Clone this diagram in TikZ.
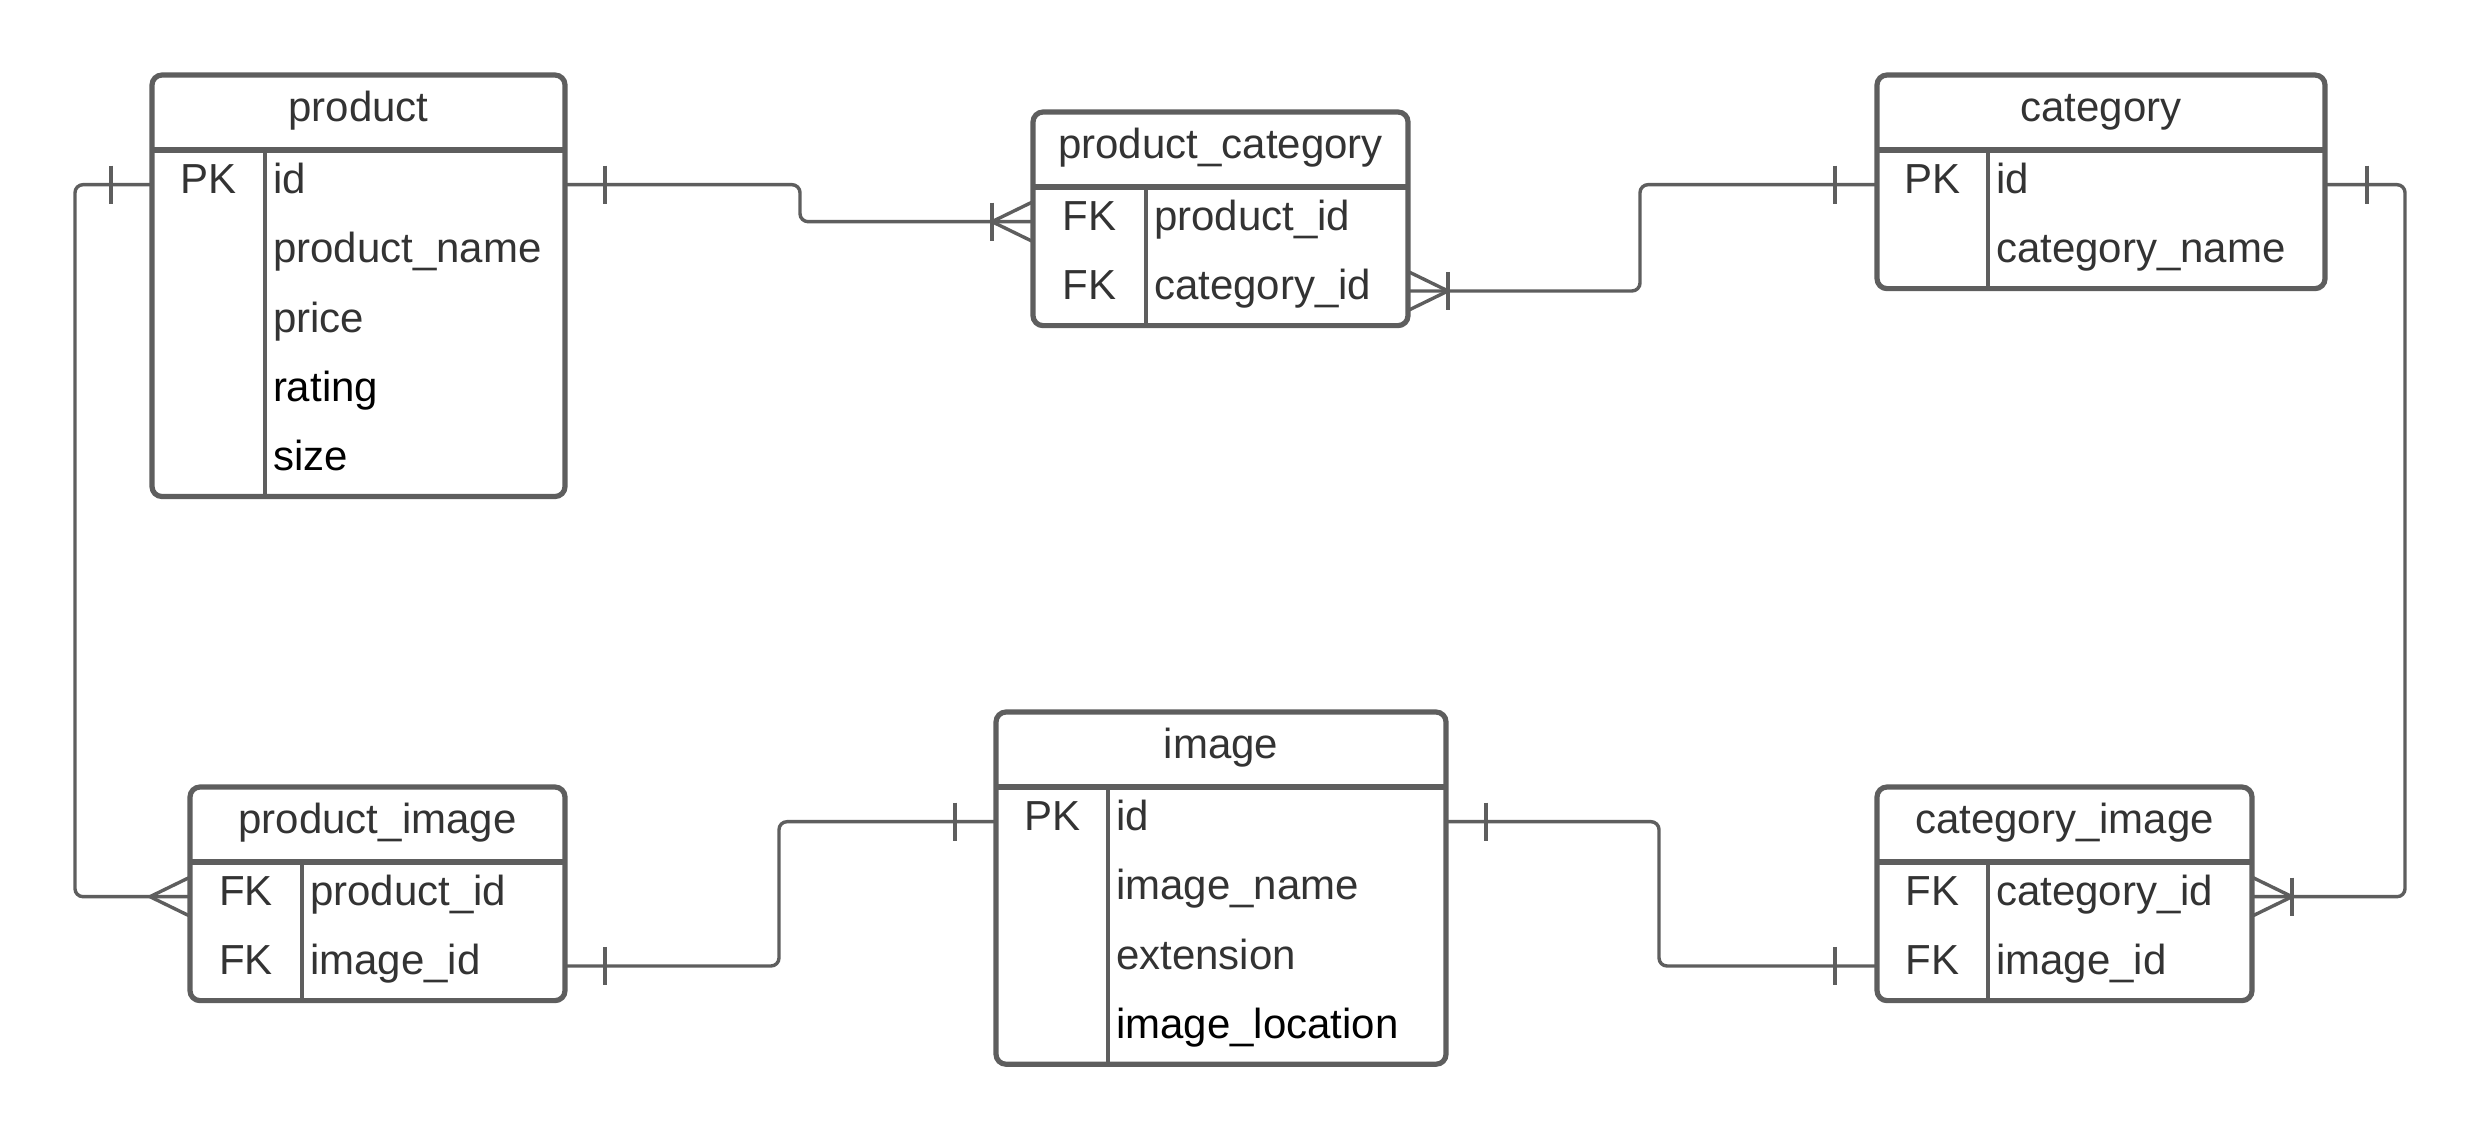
\documentclass[tikz,border=0pt]{standalone}
\usepackage{fontspec}
\setmainfont{Liberation Sans}
\usetikzlibrary{calc,fit}
\definecolor{lc}{HTML}{5E5E5E}
\definecolor{tc}{HTML}{333333}
\tikzset{
  tablebox/.style={draw=lc, line width=1.3pt, rounded corners=2.5pt, inner sep=0pt, outer sep=0pt},
  hdrline/.style={draw=lc, line width=1.3pt},
  colline/.style={draw=lc, line width=1pt},
  conn/.style={draw=lc, line width=0.85pt, rounded corners=2pt},
  txt/.style={inner sep=0pt, outer sep=0pt, font=\fontsize{10.5}{12.5}\selectfont, text=tc},
  onemark/.pic={\draw[conn] (0,-19) -- (0,19);},
  crowR/.pic={\draw[conn,rounded corners=0pt] (40,-19.5) -- (0,0) -- (40,19.5);},
  crowL/.pic={\draw[conn,rounded corners=0pt] (-40,-19.5) -- (0,0) -- (-40,19.5);},
}
\newcommand{\ertable}[8]{%
  \pgfmathsetmacro{\erhb}{#4+75}%
  \pgfmathsetmacro{\erbt}{#4+75+#6*69.3}%
  \node[tablebox, fit={(#2,#4) (#3,\erbt)}] (#1) {};
  \draw[hdrline] (#2,\erhb) -- (#3,\erhb);
  \draw[colline] (#5,\erhb) -- (#5,\erbt);
  \node[txt, anchor=base] (#1-title) at ({(#2+#3)/2},{#4+46.5}) {#7};
  \foreach \k/\f/\c [count=\i] in {#8} {
    \pgfmathsetmacro{\eryc}{\erhb+(\i-0.5)*69.3}
    \coordinate (#1-r\i) at (#2,\eryc);
    \node[txt, anchor=base] (#1-k\i) at ({(#2+#5)/2},{\eryc+9}) {\k};
    \node[txt, anchor=base west, text=\c] (#1-f\i) at ({#5+8},{\eryc+9}) {\f};
  }
}
\begin{document}
\begin{tikzpicture}[x=0.25pt,y=-0.25pt]
\useasboundingbox (0,0) rectangle (2481,1140);

% tables
\ertable{product}{152}{565}{75}{265}{5}{product}{PK/id/tc, {}/product\_name/tc, {}/price/tc, {}/rating/black, {}/size/black}
\ertable{pc}{1033}{1408}{112}{1146}{2}{product\_category}{FK/product\_id/tc, FK/category\_id/tc}
\ertable{category}{1877}{2325}{75}{1988}{2}{category}{PK/id/tc, {}/category\_name/tc}
\ertable{pimg}{190}{565}{787}{302}{2}{product\_image}{FK/product\_id/tc, FK/image\_id/tc}
\ertable{image}{996}{1446}{712}{1108}{4}{image}{PK/id/tc, {}/image\_name/tc, {}/extension/tc, {}/image\_location/black}
\ertable{cimg}{1877}{2252}{787}{1988}{2}{category\_image}{FK/category\_id/tc, FK/image\_id/tc}

% bend coordinates
\coordinate (m1) at (800,0);
\coordinate (m2) at (1640,0);
\coordinate (m3) at (2405,0);
\coordinate (m4) at (75,0);
\coordinate (m5) at (779,0);
\coordinate (m6) at (1659,0);

% connectors
\draw[conn] (product.east |- product-r1) -| (m1 |- pc-r1) -- (pc.west |- pc-r1);
\draw[conn] (pc.east |- pc-r2) -| (m2 |- category-r1) -- (category.west |- category-r1);
\draw[conn] (category.east |- category-r1) -| (m3 |- cimg-r1) -- (cimg.east |- cimg-r1);
\draw[conn] (product.west |- product-r1) -| (m4 |- pimg-r1) -- (pimg.west |- pimg-r1);
\draw[conn] (pimg.east |- pimg-r2) -| (m5 |- image-r1) -- (image.west |- image-r1);
\draw[conn] (image.east |- image-r1) -| (m6 |- cimg-r2) -- (cimg.west |- cimg-r2);

% marks: product -- product_category
\pic at ($(product.east |- product-r1)+(40,0)$) {onemark};
\pic at ($(pc.west |- pc-r1)+(-41,0)$) {onemark};
\pic at ($(pc.west |- pc-r1)+(-41,0)$) {crowR};
% category -- product_category
\pic at ($(pc.east |- pc-r2)+(40,0)$) {onemark};
\pic at ($(pc.east |- pc-r2)+(40,0)$) {crowL};
\pic at ($(category.west |- category-r1)+(-42,0)$) {onemark};
% category -- category_image
\pic at ($(category.east |- category-r1)+(42,0)$) {onemark};
\pic at ($(cimg.east |- cimg-r1)+(40,0)$) {onemark};
\pic at ($(cimg.east |- cimg-r1)+(40,0)$) {crowL};
% product -- product_image
\pic at ($(product.west |- product-r1)+(-41,0)$) {onemark};
\pic at ($(pimg.west |- pimg-r1)+(-40,0)$) {crowR};
% product_image -- image
\pic at ($(pimg.east |- pimg-r2)+(40,0)$) {onemark};
\pic at ($(image.west |- image-r1)+(-41,0)$) {onemark};
% image -- category_image
\pic at ($(image.east |- image-r1)+(40,0)$) {onemark};
\pic at ($(cimg.west |- cimg-r2)+(-42,0)$) {onemark};
\end{tikzpicture}
\end{document}
